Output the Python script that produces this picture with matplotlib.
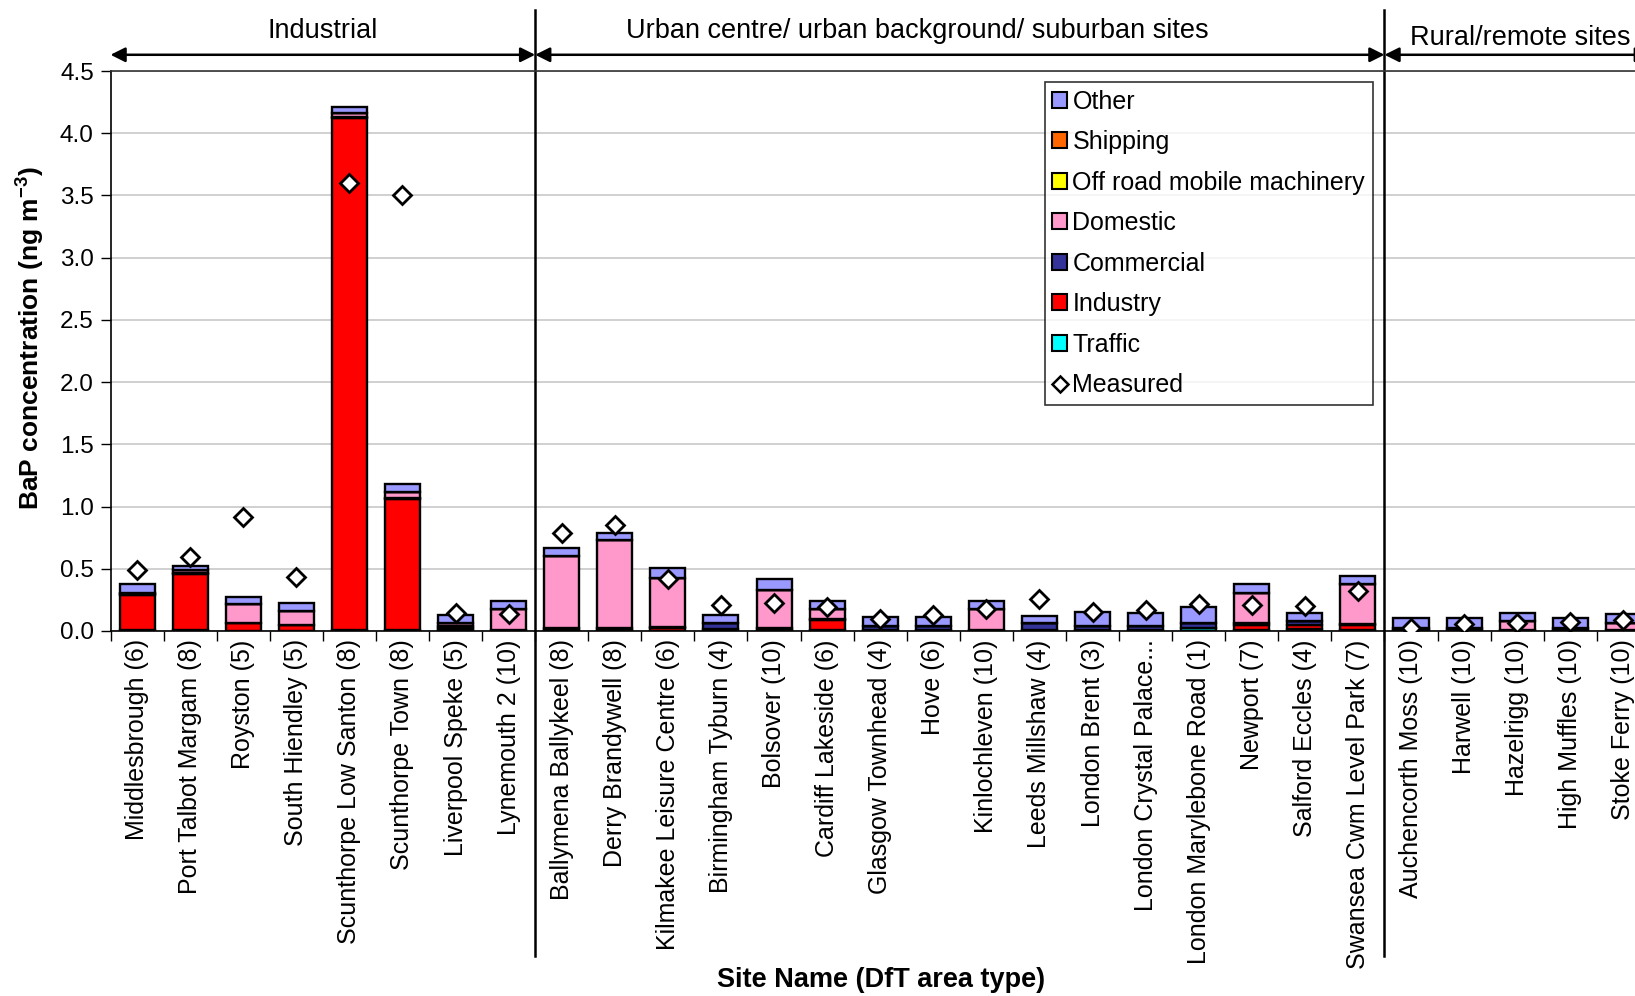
import numpy as np
import matplotlib
matplotlib.use("Agg")
import matplotlib.pyplot as plt
import matplotlib.transforms as mtransforms
from matplotlib.patches import Patch
from matplotlib.lines import Line2D

plt.rcParams['font.family'] = ['Liberation Sans', 'DejaVu Sans']
plt.rcParams['mathtext.fontset'] = 'custom'
plt.rcParams['mathtext.rm'] = 'Liberation Sans'
plt.rcParams['mathtext.bf'] = 'Liberation Sans:bold'

# site names with DfT area type
sites = [
    "Middlesbrough (6)", "Port Talbot Margam (8)", "Royston (5)", "South Hiendley (5)",
    "Scunthorpe Low Santon (8)", "Scunthorpe Town (8)", "Liverpool Speke (5)", "Lynemouth 2 (10)",
    "Ballymena Ballykeel (8)", "Derry Brandywell (8)", "Kilmakee Leisure Centre (6)",
    "Birmingham Tyburn (4)", "Bolsover (10)", "Cardiff Lakeside (6)", "Glasgow Townhead (4)",
    "Hove (6)", "Kinlochleven (10)", "Leeds Millshaw (4)", "London Brent (3)",
    "London Crystal Palace...", "London Marylebone Road (1)", "Newport (7)", "Salford Eccles (4)",
    "Swansea Cwm Level Park (7)", "Auchencorth Moss (10)", "Harwell (10)", "Hazelrigg (10)",
    "High Muffles (10)", "Stoke Ferry (10)",
]

# source contributions (ng m-3), bottom to top
traffic = [0.01, 0.005, 0.003, 0.003, 0.005, 0.005, 0.01, 0.003, 0.003, 0.003, 0.003,
           0.012, 0.003, 0.005, 0.005, 0.005, 0.002, 0.005, 0.008, 0.008, 0.025, 0.005,
           0.015, 0.005, 0.001, 0.001, 0.002, 0.001, 0.002]
industry = [0.28, 0.455, 0.06, 0.043, 4.12, 1.055, 0.015, 0.002, 0.002, 0.002, 0.02,
            0.003, 0.003, 0.085, 0.002, 0.002, 0.002, 0.005, 0.002, 0.002, 0.002, 0.045,
            0.03, 0.04, 0.002, 0.002, 0.002, 0.002, 0.003]
commercial = [0.005, 0.005, 0.002, 0.002, 0.005, 0.005, 0.015, 0.005, 0.015, 0.015, 0.005,
              0.05, 0.015, 0.003, 0.035, 0.03, 0.003, 0.05, 0.03, 0.03, 0.038, 0.015,
              0.035, 0.01, 0.002, 0.002, 0.003, 0.002, 0.003]
domestic = [0.01, 0.025, 0.15, 0.11, 0.03, 0.055, 0.02, 0.17, 0.58, 0.71, 0.4,
            0.0, 0.31, 0.085, 0.0, 0.005, 0.173, 0.0, 0.0, 0.0, 0.0, 0.24,
            0.003, 0.32, 0.022, 0.022, 0.071, 0.022, 0.057]
offroad = [0.0] * 29
shipping = [0.0] * 29
other = [0.07, 0.035, 0.06, 0.07, 0.05, 0.06, 0.065, 0.057, 0.07, 0.055, 0.075,
         0.06, 0.085, 0.062, 0.068, 0.068, 0.06, 0.058, 0.11, 0.103, 0.13, 0.073,
         0.06, 0.066, 0.08, 0.081, 0.067, 0.081, 0.069]
measured = [0.49, 0.596, 0.918, 0.435, 3.60, 3.50, 0.148, 0.14, 0.79, 0.851, 0.414,
            0.207, 0.228, 0.19, 0.10, 0.126, 0.18, 0.258, 0.151, 0.172, 0.22, 0.21,
            0.20, 0.325, 0.02, 0.054, 0.065, 0.072, 0.092]

components = [
    ("Traffic", traffic, "#00FFFF"),
    ("Industry", industry, "#FF0000"),
    ("Commercial", commercial, "#333399"),
    ("Domestic", domestic, "#FF99CC"),
    ("Off road mobile machinery", offroad, "#FFFF00"),
    ("Shipping", shipping, "#FF6600"),
    ("Other", other, "#9999FF"),
]

fig = plt.figure(figsize=(16.35, 9.96), dpi=100)
ax = fig.add_axes([0.0676, 0.3665, 0.9415, 0.5622])

x = np.arange(len(sites))
bottom = np.zeros(len(sites))
for name, vals, col in components:
    vals = np.array(vals)
    ax.bar(x, vals, bottom=bottom, width=0.66, color=col, edgecolor='black',
           linewidth=1.7, zorder=3)
    bottom += vals

ax.plot(x, measured, linestyle='none', marker='D', markersize=9.5,
        markerfacecolor='white', markeredgecolor='black', markeredgewidth=2, zorder=5)

ax.set_xlim(-0.5, len(sites) - 0.5)
ax.set_ylim(0, 4.5)
ax.set_yticks(np.arange(0, 4.51, 0.5))
ax.set_yticklabels([f"{v:.1f}" for v in np.arange(0, 4.51, 0.5)], fontsize=17.5)
ax.yaxis.grid(True, color='#c8c8c8', linewidth=1.2, zorder=0)
ax.set_axisbelow(True)

ax.set_xticks(x)
ax.set_xticklabels(sites, rotation=90, fontsize=18)
ax.tick_params(axis='x', which='major', length=0, pad=6)
ax.set_xticks(np.arange(-0.5, len(sites), 1), minor=True)
ax.tick_params(axis='x', which='minor', length=7, direction='out', width=1)
ax.tick_params(axis='y', length=7, direction='out', width=1, pad=5)

ax.spines['right'].set_visible(False)
ax.spines['top'].set_color('#333333')
ax.spines['top'].set_linewidth(1.2)
ax.spines['left'].set_linewidth(1.2)
ax.spines['bottom'].set_linewidth(1.2)

# group dividers and arrows
trans = mtransforms.blended_transform_factory(ax.transData, fig.transFigure)
for xd in [7.5, 23.5]:
    ax.add_line(Line2D([xd, xd], [0.04, 0.99], transform=trans, color='black',
                       linewidth=1.8, clip_on=False))

arrow_y = 0.945
for x0, x1 in [(-0.5, 7.5), (7.5, 23.5), (23.5, 28.5)]:
    ax.annotate("", xy=(x1, arrow_y), xytext=(x0, arrow_y), xycoords=trans,
                textcoords=trans,
                arrowprops=dict(arrowstyle='<|-|>', color='black', lw=1.8,
                                mutation_scale=22, shrinkA=0, shrinkB=0))

ax.text(3.5, 0.969, "Industrial", transform=trans, ha='center', va='center', fontsize=19.5)
ax.text(14.7, 0.969, "Urban centre/ urban background/ suburban sites", transform=trans,
        ha='center', va='center', fontsize=19.5)
ax.text(26.05, 0.962, "Rural/remote sites", transform=trans, ha='center', va='center',
        fontsize=19.5)

fig.text(0.018, 0.66, r"BaP concentration (ng m$^{\mathbf{-3}}$)", rotation=90,
         ha='center', va='center', fontsize=19, fontweight='bold')
fig.text(0.539, 0.016, "Site Name (DfT area type)", ha='center', va='center',
         fontsize=19.5, fontweight='bold')

# legend
handles = []
for name, vals, col in reversed(components):
    handles.append(Patch(facecolor=col, edgecolor='black', linewidth=1.5, label=name))
handles.append(Line2D([], [], linestyle='none', marker='D', markersize=8,
                      markerfacecolor='white', markeredgecolor='black',
                      markeredgewidth=1.8, label='Measured'))
leg = ax.legend(handles=handles, loc='upper left', bbox_to_anchor=(0.607, 0.98),
                fontsize=18, frameon=True, fancybox=False, borderpad=0.3,
                labelspacing=0.66, handlelength=0.6, handleheight=0.6,
                handletextpad=0.2, borderaxespad=0)
leg.get_frame().set_edgecolor('black')
leg.get_frame().set_linewidth(1.2)
leg.set_zorder(10)

fig.savefig("out.png", dpi=100, facecolor='white')
